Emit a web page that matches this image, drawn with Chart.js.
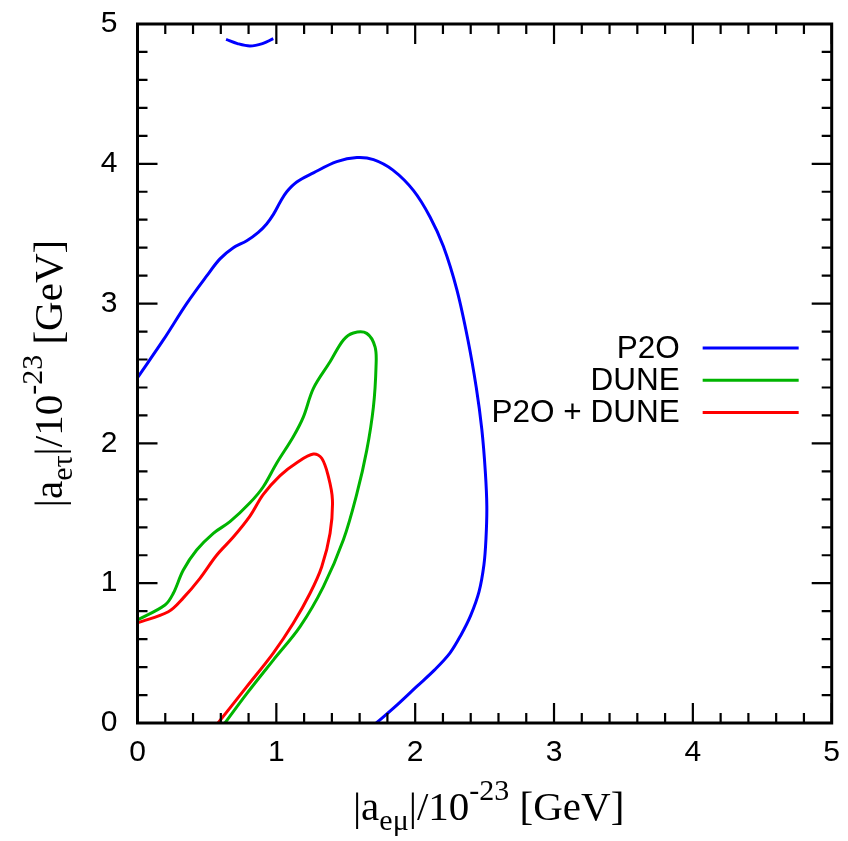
<!DOCTYPE html>
<html>
<head>
<meta charset="utf-8">
<script src="https://cdn.jsdelivr.net/npm/chart.js@4/dist/chart.umd.min.js"></script>
<style>
    html, body { margin: 0; padding: 0; background: #fff; }
    #wrap { width: 848px; height: 841px; }
</style>
</head>
<body>
<div id="wrap"><canvas id="chart-lv" width="848" height="841"></canvas></div>
<script>
// |a_emu| vs |a_etau| sensitivity contours
const AXIS_MIN = 0;
const AXIS_MAX = 5;
const MINOR_STEP = 0.2;

// P2O main contour (open at the left edge and the bottom)
const p2oX = [0, 0.186, 0.354, 0.50, 0.594, 0.69, 0.787, 0.87, 0.93, 0.98, 1.03, 1.075, 1.147, 1.267, 1.435,
    1.58, 1.70, 1.84, 1.987, 2.107, 2.203, 2.30, 2.38, 2.44, 2.48, 2.505, 2.516, 2.51, 2.495, 2.46, 2.40,
    2.33, 2.25, 2.14, 2.01, 1.87, 1.72];
const p2oY = [2.47, 2.74, 3.00, 3.20, 3.32, 3.40, 3.45, 3.51, 3.57, 3.64, 3.73, 3.80, 3.87, 3.935, 4.015,
    4.045, 4.03, 3.955, 3.81, 3.62, 3.41, 3.10, 2.74, 2.40, 2.10, 1.80, 1.55, 1.32, 1.13, 0.94, 0.77,
    0.63, 0.50, 0.38, 0.26, 0.13, 0];

// P2O island near the top edge
const p2oTopX = [0.638, 0.72, 0.81, 0.90, 0.978];
const p2oTopY = [4.89, 4.86, 4.843, 4.86, 4.895];

const duneX = [0, 0.198, 0.258, 0.33, 0.426, 0.546, 0.666, 0.81, 0.906, 1.003, 1.122, 1.195, 1.267, 1.387,
    1.483, 1.555, 1.651, 1.711, 1.718, 1.699, 1.651, 1.58, 1.483, 1.339, 1.171, 0.978, 0.787, 0.63];
const duneY = [0.737, 0.844, 0.928, 1.094, 1.237, 1.357, 1.44, 1.575, 1.69, 1.86, 2.048, 2.19, 2.394, 2.584,
    2.74, 2.79, 2.787, 2.69, 2.55, 2.26, 1.95, 1.64, 1.31, 0.975, 0.689, 0.45, 0.21, 0];

const combX = [0, 0.222, 0.33, 0.45, 0.57, 0.69, 0.81, 0.906, 1.027, 1.147, 1.267, 1.327, 1.375, 1.404,
    1.387, 1.327, 1.243, 1.122, 0.978, 0.787, 0.58];
const combY = [0.717, 0.796, 0.895, 1.035, 1.20, 1.33, 1.48, 1.635, 1.77, 1.862, 1.924, 1.894, 1.762, 1.595,
    1.357, 1.118, 0.928, 0.713, 0.50, 0.26, 0];

const LEGEND_LABELS = ['P2O', 'DUNE', 'P2O + DUNE'];
const COLORS = { p2o: '#0000ff', dune: '#00b400', comb: '#ff0000' };

const SANS = '"Liberation Sans", Arial, Helvetica, sans-serif';
const SERIF = '"Liberation Serif", "Times New Roman", serif';

const toPoints = (xs, ys) => xs.map((x, i) => ({ x, y: ys[i] }));

const lineSet = (label, data, color, inLegend) => ({
    label,
    data,
    showLine: true,
    borderColor: color,
    backgroundColor: color,
    borderWidth: 3,
    pointRadius: 0,
    tension: 0.35,
    fill: false,
    inLegend,
});

// inward ticks on all four sides + closed frame
const frameTicksPlugin = {
    id: 'frameTicks',
    afterDatasetsDraw(chart) {
        const { ctx, chartArea: a, scales } = chart;
        ctx.save();
        ctx.strokeStyle = '#000';
        ctx.lineWidth = 2.2;
        const n = Math.round((AXIS_MAX - AXIS_MIN) / MINOR_STEP);
        for (let i = 0; i <= n; i++) {
            const v = AXIS_MIN + i * MINOR_STEP;
            const len = i % 5 === 0 ? 20 : 10;
            const px = scales.x.getPixelForValue(v);
            const py = scales.y.getPixelForValue(v);
            ctx.beginPath();
            ctx.moveTo(px, a.bottom); ctx.lineTo(px, a.bottom - len);
            ctx.moveTo(px, a.top); ctx.lineTo(px, a.top + len);
            ctx.moveTo(a.left, py); ctx.lineTo(a.left + len, py);
            ctx.moveTo(a.right, py); ctx.lineTo(a.right - len, py);
            ctx.stroke();
        }
        ctx.lineWidth = 3;
        ctx.strokeRect(a.left, a.top, a.right - a.left, a.bottom - a.top);
        ctx.restore();
    },
};

// legend: right-aligned text followed by a short line sample
const legendPlugin = {
    id: 'lineLegend',
    afterDatasetsDraw(chart) {
        const { ctx, chartArea: a } = chart;
        const items = chart.data.datasets.filter(d => d.inLegend);
        const textRight = a.left + (a.right - a.left) * 0.781;
        const lineStart = textRight + 23;
        const lineEnd = lineStart + 96;
        const top = a.top + 324;
        const rowH = 32.2;
        ctx.save();
        ctx.font = `31.5px ${SANS}`;
        ctx.textAlign = 'right';
        ctx.textBaseline = 'middle';
        items.forEach((d, i) => {
            const yy = top + i * rowH;
            ctx.fillStyle = '#000';
            ctx.fillText(d.label, textRight, yy + 1);
            ctx.strokeStyle = d.borderColor;
            ctx.lineWidth = 3;
            ctx.beginPath();
            ctx.moveTo(lineStart, yy);
            ctx.lineTo(lineEnd, yy);
            ctx.stroke();
        });
        ctx.restore();
    },
};

// axis titles with sub- and superscripts
function drawRich(ctx, parts, x, y) {
    let w = 0;
    parts.forEach(p => {
        ctx.font = `${p.size}px ${SERIF}`;
        p.w = ctx.measureText(p.text).width;
        w += p.w;
    });
    let cx = x - w / 2;
    parts.forEach(p => {
        ctx.font = `${p.size}px ${SERIF}`;
        ctx.fillText(p.text, cx, y + (p.dy || 0));
        cx += p.w;
    });
}

const titleParts = sub => [
    { text: '|a', size: 41 },
    { text: sub, size: 30, dy: 10 },
    { text: '|/10', size: 41 },
    { text: '-23', size: 30, dy: -20 },
    { text: ' [GeV]', size: 41 },
];

const axisTitlePlugin = {
    id: 'axisTitles',
    afterDraw(chart) {
        const { ctx, chartArea: a } = chart;
        ctx.save();
        ctx.fillStyle = '#000';
        ctx.textAlign = 'left';
        ctx.textBaseline = 'alphabetic';
        drawRich(ctx, titleParts('eμ'), (a.left + a.right) / 2 + 4, a.bottom + 97);
        ctx.translate(62, (a.top + a.bottom) / 2);
        ctx.rotate(-Math.PI / 2);
        drawRich(ctx, titleParts('eτ'), 0, 0);
        ctx.restore();
    },
};

function createLvChart() {
    try {
        const canvas = document.getElementById('chart-lv');
        if (!canvas) return;
        const ctx = canvas.getContext('2d');

        const tickFont = { family: SANS, size: 30 };

        new Chart(ctx, {
            type: 'scatter',
            data: {
                datasets: [
                    lineSet(LEGEND_LABELS[0], toPoints(p2oX, p2oY), COLORS.p2o, true),
                    lineSet(LEGEND_LABELS[1], toPoints(duneX, duneY), COLORS.dune, true),
                    lineSet(LEGEND_LABELS[2], toPoints(combX, combY), COLORS.comb, true),
                    lineSet('P2O island', toPoints(p2oTopX, p2oTopY), COLORS.p2o, false),
                ],
            },
            plugins: [frameTicksPlugin, legendPlugin, axisTitlePlugin],
            options: {
                responsive: false,
                animation: false,
                layout: { padding: { top: 24, right: 16.3, bottom: 0, left: 0 } },
                plugins: {
                    legend: { display: false },
                    tooltip: { enabled: false },
                },
                scales: {
                    x: {
                        type: 'linear',
                        min: AXIS_MIN,
                        max: AXIS_MAX,
                        grid: { display: false, drawTicks: false },
                        border: { display: false },
                        ticks: { stepSize: 1, color: '#000', font: tickFont, padding: 12 },
                        afterFit: scale => {
                            scale.height = 118;
                            scale.paddingLeft = 0;
                            scale.paddingRight = 0;
                        },
                    },
                    y: {
                        type: 'linear',
                        min: AXIS_MIN,
                        max: AXIS_MAX,
                        grid: { display: false, drawTicks: false },
                        border: { display: false },
                        ticks: { stepSize: 1, color: '#000', font: tickFont, padding: 20 },
                        afterFit: scale => {
                            scale.width = 137.5;
                            scale.paddingTop = 0;
                            scale.paddingBottom = 0;
                        },
                    },
                },
            },
        });
    } catch (err) {
        console.error('[LV-CHART] FAILED:', err);
    }
}

createLvChart();
</script>
</body>
</html>
